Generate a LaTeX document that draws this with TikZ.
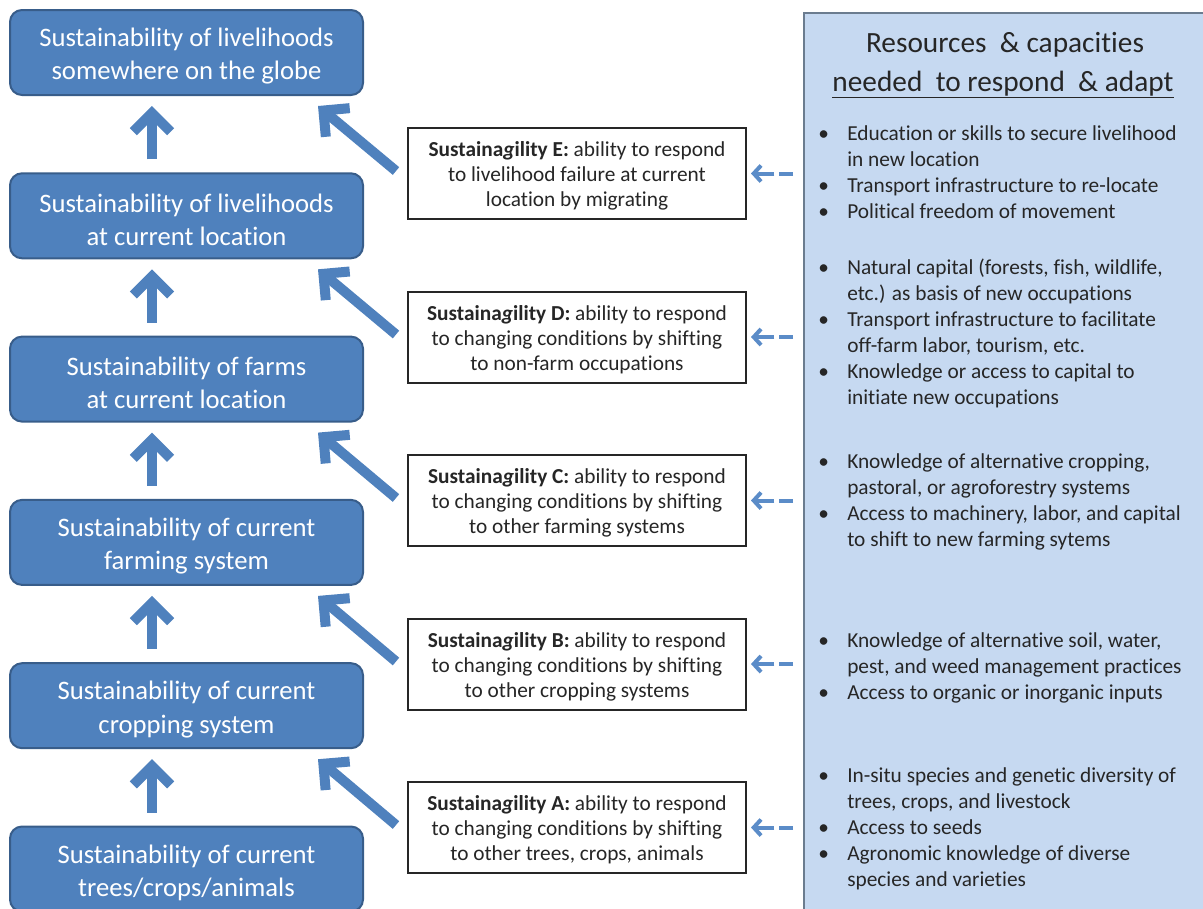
\documentclass[tikz,border=0pt]{standalone}
\usepackage{fontspec}
\setmainfont{Carlito}[Ligatures=NoCommon]
\usetikzlibrary{arrows.meta,calc}

\definecolor{boxblue}{HTML}{4F81BD}
\definecolor{boxedge}{HTML}{385D8A}
\definecolor{panelblue}{HTML}{C6D9F1}
\definecolor{paneledge}{HTML}{6B7C8F}
\definecolor{dashblue}{HTML}{5B8CC8}
\definecolor{inkgray}{HTML}{262626}

% bullet with fixed hanging indent, and the matching blank indent
\newcommand{\bul}{\makebox[21.75pt][l]{\textbullet}}
\newcommand{\ind}{\hspace*{21.75pt}}
\newcommand{\sag}[1]{\rule{0pt}{15pt}\textbf{Sustaina\textit{g}ility #1:}}
% taller first line, so the text block sits slightly lower in its box
\newcommand{\lift}{\rule{0pt}{19.5pt}}

\tikzset{
  level/.style={draw=boxedge, line width=1.5pt, fill=boxblue, rounded corners=9pt,
    minimum width=264.75pt, minimum height=63.75pt, text=white, align=center,
    font=\fontsize{20pt}{25pt}\selectfont, inner sep=0pt},
  agil/.style={draw=inkgray, line width=1.5pt, fill=white,
    minimum width=253.5pt, minimum height=68.25pt, align=center, text=inkgray,
    font=\fontsize{16pt}{18.75pt}\selectfont, inner sep=0pt},
  % anchored at the baseline of the last line of each list
  res/.style={anchor=base west, align=left, text=inkgray, inner sep=0pt,
    font=\fontsize{16pt}{19.5pt}\selectfont},
  headline/.style={anchor=base, text=inkgray, inner sep=0pt,
    font=\fontsize{22pt}{29pt}\selectfont},
  bigarrow/.style={draw=boxblue, line width=7.5pt,
    -{Straight Barb[length=14pt,width=28pt]}},
  dasharrow/.style={draw=dashblue, line width=3pt,
    -{Straight Barb[length=5.5pt,width=12pt]},
    dash pattern=on 10.5pt off 3.5pt on 40pt off 0pt},
}

\begin{document}
\begin{tikzpicture}[x=0.75pt,y=-0.75pt]
\useasboundingbox (0,0) rectangle (1203,908);
\begin{scope}
\clip (0,0) rectangle (1203,908);

% resources panel on the right
\node[draw=paneledge, line width=1.2pt, fill=panelblue, anchor=north west,
      minimum width=309pt, minimum height=684.75pt, inner sep=0pt] (RB) at (803,12) {};
\node[headline] (T1) at (1005,52) {Resources\ \ \& capacities};
\node[headline] (T2) at (1003,91) {\underline{needed\ \ to respond\ \ \& adapt}};

\node[res] (RE) at (818,218) {\bul Education or skills to secure livelihood\\
  \ind in new location\\
  \bul Transport infrastructure to re-locate\\
  \bul Political freedom of movement};
\node[res] (RD) at (818,404) {\bul Natural capital (forests, fish, wildlife,\\
  \ind etc.) as basis of new occupations\\
  \bul Transport infrastructure to facilitate\\
  \ind off-farm labor, tourism, etc.\\
  \bul Knowledge or access to capital to\\
  \ind initiate new occupations};
\node[res] (RC) at (818,546) {\bul Knowledge of alternative cropping,\\
  \ind pastoral, or agroforestry systems\\
  \bul Access to machinery, labor, and capital\\
  \ind to shift to new farming sytems};
\node[res] (RBB) at (818,699) {\bul Knowledge of alternative soil, water,\\
  \ind pest, and weed management practices\\
  \bul Access to organic or inorganic inputs};
\node[res] (RA) at (818,886) {\bul In-situ species and genetic diversity of\\
  \ind trees, crops, and livestock\\
  \bul Access to seeds\\
  \bul Agronomic knowledge of diverse\\
  \ind species and varieties};

% levels of sustainability
\node[level] (L1) at (186.5,52.5)  {\lift Sustainability of livelihoods\\somewhere on the globe};
\node[level] (L2) at (186.5,215.8) {\lift Sustainability of livelihoods\\at current location};
\node[level] (L3) at (186.5,379.1) {\lift Sustainability of farms\\at current location};
\node[level] (L4) at (186.5,542.4) {\lift Sustainability of current\\farming system};
\node[level] (L5) at (186.5,705.7) {\lift Sustainability of current\\cropping system};
\node[level] (L6) at (186.5,869)   {\lift Sustainability of current\\trees/crops/animals};

% sustainagility boxes
\node[agil] (AE) at (577,173.5) {\sag{E} ability to respond\\to livelihood failure at current\\location by migrating};
\node[agil] (AD) at (577,337)   {\sag{D} ability to respond\\to changing conditions by shifting\\to non-farm occupations};
\node[agil] (AC) at (577,500.5) {\sag{C} ability to respond\\to changing conditions by shifting\\to other farming systems};
\node[agil] (AB) at (577,664)   {\sag{B} ability to respond\\to changing conditions by shifting\\to other cropping systems};
\node[agil] (AA) at (577,827.5) {\sag{A} ability to respond\\to changing conditions by shifting\\to other trees, crops, animals};

% upward arrows between levels
\foreach \lo/\hi in {L2/L1,L3/L2,L4/L3,L5/L4,L6/L5}
  \draw[bigarrow] ([xshift=-25.9pt,yshift=9.75pt]\lo.north) -- ([xshift=-25.9pt,yshift=-7.5pt]\hi.south);

% diagonal arrows from each ability box to the level it sustains
\foreach \a/\l in {AE/L1,AD/L2,AC/L3,AB/L4,AA/L5}
  \draw[bigarrow] ($(\a.north west)+(-8.25pt,-33pt)$) -- ($(\l.south east)+(-34.5pt,-7.5pt)$);

% dashed arrows from the resources panel
\foreach \a in {AE,AD,AC,AB,AA}
  \draw[dasharrow] ($(\a.east -| RB.west)+(-7.5pt,0)$) -- ($(\a.east)+(3pt,0)$);
\end{scope}
\end{tikzpicture}
\end{document}
